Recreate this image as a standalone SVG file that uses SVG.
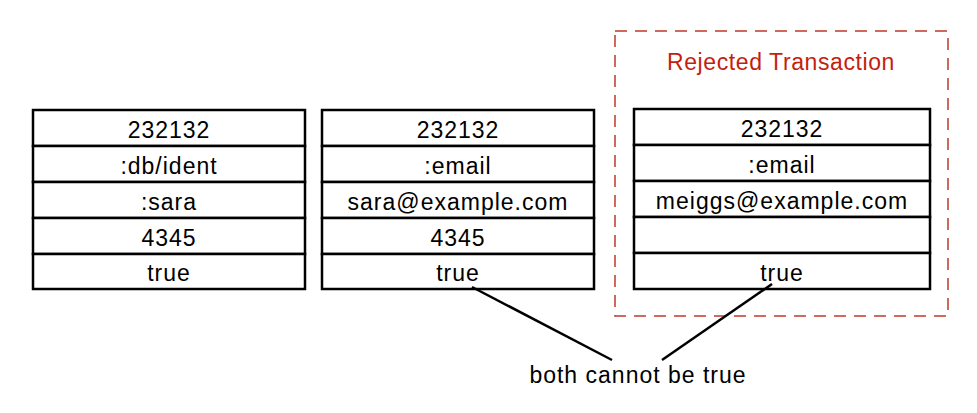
<svg xmlns="http://www.w3.org/2000/svg" width="977" height="413" viewBox="0 0 977 413">
<style>
.cell{fill:#fff;stroke:#000;stroke-width:2.5}
.t{font-family:"Liberation Sans",Arial,sans-serif;font-size:23px;letter-spacing:1px;fill:#000;text-anchor:middle}
.conn{stroke:#000;stroke-width:2.5;fill:none}
</style>
<rect width="977" height="413" fill="#fff"/>
<g id="rejected-group">
<rect x="615" y="31" width="333" height="285" fill="none" stroke="#c0392b" stroke-width="1.5" stroke-dasharray="12,8"/>
<text class="t" x="781" y="70" style="fill:#c41e0e;letter-spacing:0.6px">Rejected Transaction</text>
</g>
<g id="datom1">
<rect class="cell" x="33" y="110" width="272" height="36"/>
<rect class="cell" x="33" y="146" width="272" height="36"/>
<rect class="cell" x="33" y="182" width="272" height="36"/>
<rect class="cell" x="33" y="218" width="272" height="36"/>
<rect class="cell" x="33" y="254" width="272" height="35"/>
<text class="t" x="169" y="138">232132</text>
<text class="t" x="169" y="174">:db/ident</text>
<text class="t" x="169" y="210">:sara</text>
<text class="t" x="169" y="246">4345</text>
<text class="t" x="169" y="281">true</text>
</g>
<g id="datom2">
<rect class="cell" x="322" y="110" width="272" height="36"/>
<rect class="cell" x="322" y="146" width="272" height="36"/>
<rect class="cell" x="322" y="182" width="272" height="36"/>
<rect class="cell" x="322" y="218" width="272" height="36"/>
<rect class="cell" x="322" y="254" width="272" height="35"/>
<text class="t" x="458" y="138">232132</text>
<text class="t" x="458" y="174">:email</text>
<text class="t" x="458" y="210">sara@example.com</text>
<text class="t" x="458" y="246">4345</text>
<text class="t" x="458" y="281">true</text>
</g>
<g id="datom3">
<rect class="cell" x="634" y="109" width="296" height="36"/>
<rect class="cell" x="634" y="145" width="296" height="36"/>
<rect class="cell" x="634" y="181" width="296" height="36"/>
<rect class="cell" x="634" y="217" width="296" height="36"/>
<rect class="cell" x="634" y="253" width="296" height="36"/>
<text class="t" x="782" y="137">232132</text>
<text class="t" x="782" y="173">:email</text>
<text class="t" x="782" y="209">meiggs@example.com</text>
<text class="t" x="782" y="281">true</text>
</g>
<g id="connectors">
<line class="conn" x1="472" y1="287" x2="612" y2="360"/>
<line class="conn" x1="772" y1="284" x2="662" y2="360"/>
</g>
<g id="note">
<text class="t" x="638" y="383">both cannot be true</text>
</g>
</svg>
